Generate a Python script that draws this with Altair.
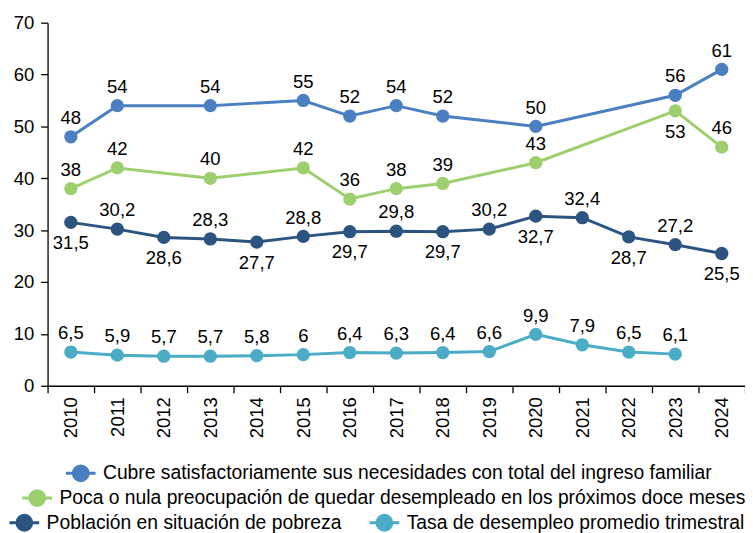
import altair as alt
import pandas as pd

years = [str(y) for y in range(2010, 2025)]

series_names = [
    "Cubre satisfactoriamente sus necesidades con total del ingreso familiar",
    "Poca o nula preocupación de quedar desempleado en los próximos doce meses",
    "Población en situación de pobreza",
    "Tasa de desempleo promedio trimestral",
]
colors = ["#4a7fc1", "#9dcf6f", "#2b5580", "#4bacc6"]

cubre = [48, 54, None, 54, None, 55, 52, 54, 52, None, 50, None, None, 56, 61]
poca = [38, 42, None, 40, None, 42, 36, 38, 39, None, 43, None, None, 53, 46]
pobreza = [31.5, 30.2, 28.6, 28.3, 27.7, 28.8, 29.7, 29.8, 29.7, 30.2, 32.7, 32.4, 28.7, 27.2, 25.5]
desempleo = [6.5, 5.9, 5.7, 5.7, 5.8, 6, 6.4, 6.3, 6.4, 6.6, 9.9, 7.9, 6.5, 6.1, None]

# label position: a = above, b = below
pos_cubre = ["a"] * 15
pos_poca = ["a"] * 13 + ["b", "a"]
pos_pobreza = ["b", "a"] * 7 + ["b"]
pos_desempleo = ["a"] * 15

values = [cubre, poca, pobreza, desempleo]
positions = [pos_cubre, pos_poca, pos_pobreza, pos_desempleo]

# legend placement (relative to plot origin)
legend_xy = [(17, 439), (-27, 464), (-40, 489), (324, 489)]

FONT = "Liberation Sans"
FS = 18.7
LFS = 19.5

LEG_PATH = ("M-1,0L1,0M0.5,0A0.5,0.5,0,1,1,-0.5,0A0.5,0.5,0,1,1,0.5,0Z")


def fmt(v):
    if float(v).is_integer():
        return str(int(v))
    return str(v).replace(".", ",")


x_enc = alt.X(
    "year:O",
    sort=years,
    bandPosition=0.5,
    scale=alt.Scale(type="band", domain=years, paddingInner=0, paddingOuter=0),
    axis=alt.Axis(
        title=None, labelAngle=270, labelFont=FONT, labelFontSize=FS, labelColor="#000",
        tickBand="extent", tickSize=7, tickColor="#000", tickWidth=1.3,
        domainColor="#000", domainWidth=1.3, labelPadding=4, grid=False,
    ),
)
y_enc = alt.Y(
    "value:Q",
    scale=alt.Scale(domain=[0, 70], nice=False, zero=True),
    axis=alt.Axis(
        title=None, values=list(range(0, 71, 10)), labelFont=FONT, labelFontSize=FS,
        labelColor="#000", tickSize=7, tickColor="#000", tickWidth=1.3,
        domainColor="#000", domainWidth=1.3, labelPadding=7, grid=False,
    ),
)

layers = []
for name, col, vals, pos, (lx, ly) in zip(series_names, colors, values, positions, legend_xy):
    rows = [
        {"year": yr, "value": v, "label": fmt(v), "pos": p, "series": name}
        for yr, v, p in zip(years, vals, pos)
        if v is not None
    ]
    df = pd.DataFrame(rows)
    color_enc = alt.Color(
        "series:N",
        scale=alt.Scale(domain=[name], range=[col]),
        legend=alt.Legend(
            title=None, orient="none", legendX=lx, legendY=ly, padding=0,
            symbolType=LEG_PATH, symbolSize=900, symbolFillColor=col,
            symbolStrokeColor=col, symbolStrokeWidth=3, symbolOpacity=1,
            labelFont=FONT, labelFontSize=LFS, labelColor="#000", labelLimit=0,
            labelOffset=6,
        ),
    )
    base = alt.Chart(df).encode(x=x_enc, y=y_enc)
    line = base.mark_line(strokeWidth=3).encode(color=color_enc)
    pts = base.mark_point(filled=True, size=180, opacity=1).encode(color=color_enc)
    above = base.transform_filter(alt.datum.pos == "a").mark_text(
        dy=-19, font=FONT, fontSize=FS, color="#000", baseline="middle"
    ).encode(text="label:N")
    below = base.transform_filter(alt.datum.pos == "b").mark_text(
        dy=21, font=FONT, fontSize=FS, color="#000", baseline="middle"
    ).encode(text="label:N")
    layers.append(alt.layer(line, pts, above, below))

chart = (
    alt.layer(*layers)
    .resolve_scale(color="independent")
    .properties(
        width=705, height=367,
        autosize=alt.AutoSizeParams(type="none"),
        padding={"left": 40, "top": 12, "right": 0, "bottom": 146},
        background="white",
    )
    .configure_view(stroke=None)
)

chart.save("out.html", embed_options={"renderer": "svg", "actions": False})
